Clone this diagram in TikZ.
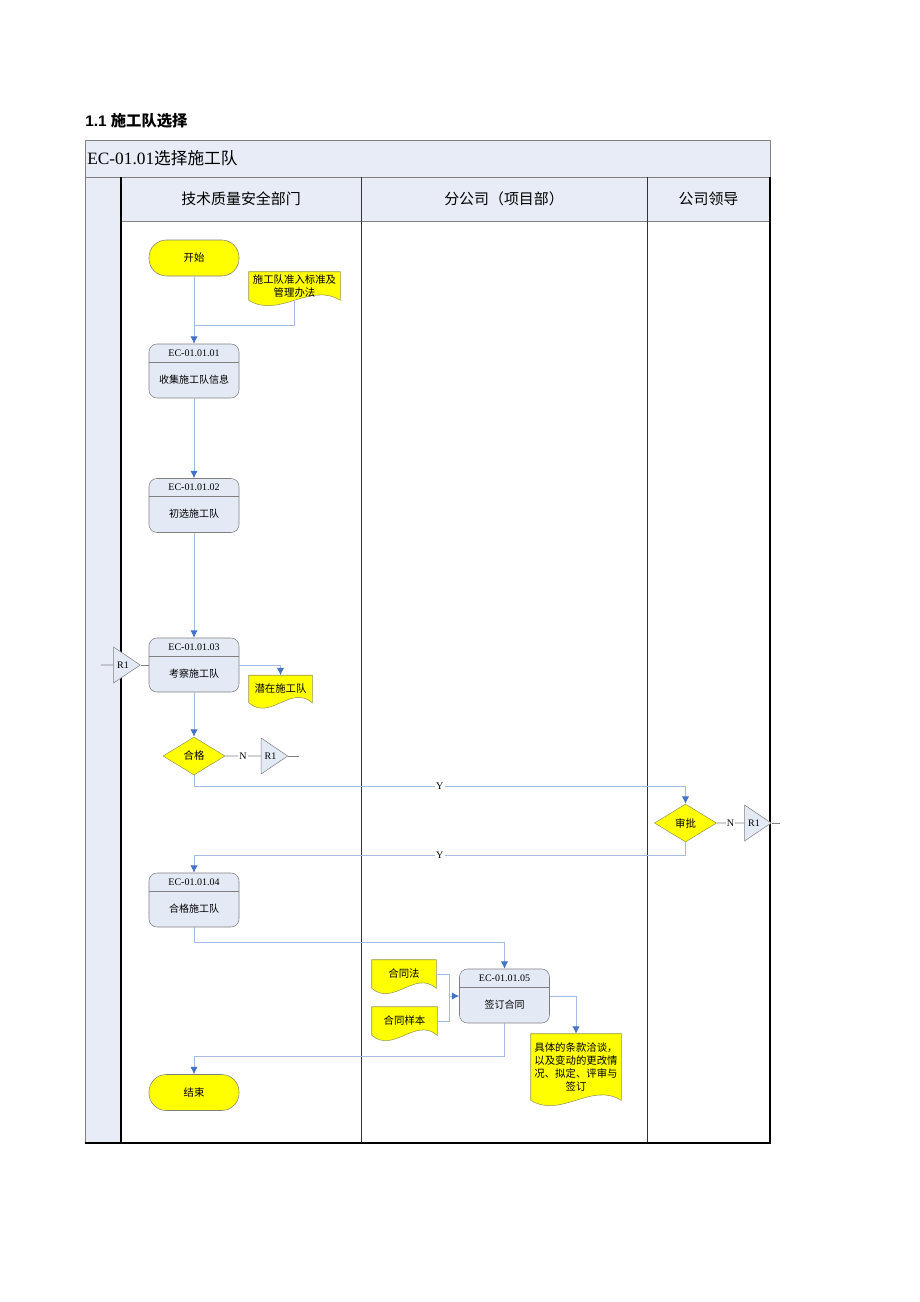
\documentclass[tikz,border=0pt]{standalone}
\usepackage{fontspec}
\setmainfont{Liberation Serif}
\newfontfamily\cjk{Noto Sans CJK SC}
\newfontfamily\headsans{Liberation Sans}
\usepackage{tikz}
\usetikzlibrary{positioning,shapes.geometric,arrows.meta,calc,backgrounds}

\definecolor{lanefill}{RGB}{231,236,246}
\definecolor{boxfill}{RGB}{228,234,245}
\definecolor{boxline}{RGB}{128,128,128}
\definecolor{linkblue}{RGB}{165,188,226}
\definecolor{arrowblue}{RGB}{68,114,196}
\definecolor{docyellow}{RGB}{255,255,0}
\definecolor{docedge}{RGB}{150,150,90}

\tikzset{
  lanehead/.style={font=\cjk\fontsize{11.2}{13}\selectfont, inner sep=0pt},
  termbox/.style={rectangle, draw=boxline, fill=docyellow, rounded corners=13pt,
    minimum width=67.5pt, minimum height=27pt, inner sep=0pt,
    font=\cjk\fontsize{7.8}{9}\selectfont},
  procbox/.style={rectangle, draw=boxline, fill=boxfill, rounded corners=6pt,
    minimum width=67.5pt, minimum height=40.5pt, inner sep=0pt,
    text height=20pt, text depth=2pt, font=\cjk\fontsize{7.5}{9}\selectfont,
    path picture={\draw[boxline]
      ([yshift=-13.5pt]path picture bounding box.north west) --
      ([yshift=-13.5pt]path picture bounding box.north east);}},
  idtext/.style={inner sep=0pt, font=\fontsize{7.5}{9}\selectfont},
  docnode/.style={rectangle, inner sep=1pt, align=center,
    font=\cjk\fontsize{7.8}{9.6}\selectfont},
  decision/.style={diamond, draw=docedge, fill=docyellow, minimum width=46.5pt,
    minimum height=28.5pt, inner sep=0pt, font=\cjk\fontsize{7.8}{9}\selectfont},
  refmark/.style={isosceles triangle, isosceles triangle stretches, draw=boxline,
    fill=boxfill, minimum width=27pt, minimum height=20pt, inner sep=0pt,
    font=\fontsize{7.5}{9}\selectfont},
  flowline/.style={draw=linkblue, line width=0.7pt,
    -{Latex[length=5.5pt,width=5.5pt,color=arrowblue]}},
  joinline/.style={draw=linkblue, line width=0.7pt},
  plainline/.style={draw=boxline, line width=0.5pt},
  ynlabel/.style={fill=white, inner sep=1pt, font=\fontsize{7.5}{9}\selectfont}
}

\newcommand{\docshape}[1]{%
  \filldraw[draw=docedge, fill=docyellow, line width=0.4pt]
    (#1.north west) -- (#1.north east) -- (#1.south east)
    .. controls ([yshift=14pt]$(#1.south west)!0.67!(#1.south east)$)
    and ([yshift=-14pt]$(#1.south west)!0.33!(#1.south east)$) .. (#1.south west)
    -- cycle;}

\begin{document}
\begin{tikzpicture}[x=0.75pt,y=-0.75pt]
    \useasboundingbox (0,0) rectangle (920,1302);

    \node[anchor=west, inner sep=0pt] (heading) at (85,121)
      {{\headsans\bfseries\fontsize{11.5}{13}\selectfont 1.1 }{\cjk\bfseries\fontsize{11.5}{13}\selectfont 施工队选择}};

    \fill[lanefill] (85,140) rectangle (770,177);
    \fill[lanefill] (85,177) rectangle (121,1143);
    \fill[lanefill] (121,177) rectangle (770,221);
    \draw[boxline, line width=0.6pt] (85,140) rectangle (770,1143);
    \draw[boxline, line width=0.6pt] (85,177) -- (770,177);
    \draw[boxline, line width=0.6pt] (121,221) -- (770,221);
    \draw[black!80, line width=0.6pt] (361,177) -- (361,1143);
    \draw[black!80, line width=0.6pt] (647,177) -- (647,1143);
    \draw[black, line width=0.8pt] (121,177) -- (121,1143);
    \draw[black, line width=0.8pt] (85,1143) -- (770,1143) -- (770,177);

    \node[anchor=west, inner sep=0pt] (title) at (87,158)
      {\fontsize{13}{15}\selectfont EC-01.01{\cjk\fontsize{12.5}{15}\selectfont 选择施工队}};
    \node[lanehead] (lane1) at (241,199) {技术质量安全部门};
    \node[lanehead] (lane2) at (504,199) {分公司（项目部）};
    \node[lanehead] (lane3) at (708.5,199) {公司领导};

    \node[termbox] (start) at (194,258) {开始};
    \node[docnode, minimum width=68.25pt, minimum height=21pt] (doc1) at (294.5,286)
      {施工队准入标准及\\管理办法};

    \node[procbox] (p1) at (194,371) {收集施工队信息};
    \node[idtext, below=4.25pt of p1.north] (p1id) {EC-01.01.01};
    \node[procbox] (p2) at (194,505.5) {初选施工队};
    \node[idtext, below=4.25pt of p2.north] (p2id) {EC-01.01.02};
    \node[procbox] (p3) at (194,665) {考察施工队};
    \node[idtext, below=4.25pt of p3.north] (p3id) {EC-01.01.03};

    \node[refmark] (r1a) at (123,665) {R1};
    \node[docnode, minimum width=47.25pt, minimum height=20.25pt] (doc2) at (280.5,689)
      {潜在施工队};

    \node[decision] (d1) at (194,756) {合格};
    \node[refmark] (r1b) at (270.5,756) {R1};
    \node[decision] (d2) at (685.5,823) {审批};
    \node[refmark] (r1c) at (754,823) {R1};

    \node[procbox] (p4) at (194,900) {合格施工队};
    \node[idtext, below=4.25pt of p4.north] (p4id) {EC-01.01.04};

    \node[docnode, minimum width=48pt, minimum height=21pt] (law) at (404,974) {合同法};
    \node[docnode, minimum width=48.75pt, minimum height=21pt] (sample) at (404.5,1021) {合同样本};
    \node[procbox] (p5) at (504.5,996) {签订合同};
    \node[idtext, below=4.25pt of p5.north] (p5id) {EC-01.01.05};
    \node[docnode, minimum width=67.5pt, minimum height=49.5pt] (doc4) at (576,1067)
      {具体的条款洽谈，\\以及变动的更改情\\况、拟定、评审与\\签订};

    \node[termbox] (stop) at (194,1092.5) {结束};

    \begin{scope}[on background layer]
      \docshape{doc1}
      \docshape{doc2}
      \docshape{law}
      \docshape{sample}
      \docshape{doc4}
    \end{scope}

    \coordinate (j1) at (194,325);
    \coordinate (j2) at (449,996);
    \coordinate (r1ain) at (101,665);
    \coordinate (r1bout) at (299,756);
    \coordinate (r1cout) at (780,823);

    \draw[flowline] (start) -- (p1);
    \draw[joinline] (doc1.south) |- (j1);
    \draw[flowline] (p1) -- (p2);
    \draw[flowline] (p2) -- (p3);
    \draw[flowline] (p3) -- (d1);
    \draw[flowline] (p3.east) -| (doc2.north);
    \draw[plainline] (r1ain) -- (r1a.west);
    \draw[plainline] (r1a.apex) -- (p3.west);
    \draw[plainline] (d1.east) -- node[ynlabel] {N} (r1b.west);
    \draw[plainline] (r1b.apex) -- (r1bout);
    \draw[flowline] (d1.south) -- ++(0,11) -| node[ynlabel, pos=0.25] {Y} (d2.north);
    \draw[plainline] (d2.east) -- node[ynlabel] {N} (r1c.west);
    \draw[plainline] (r1c.apex) -- (r1cout);
    \draw[flowline] (d2.south) -- ++(0,13) -| node[ynlabel, pos=0.25] {Y} (p4.north);
    \draw[flowline] (p4.south) -- ++(0,15) -| (p5.north);
    \draw[joinline] (law.east) -| (j2);
    \draw[joinline] (sample.east) -| (j2);
    \draw[flowline] (j2) -- (p5.west);
    \draw[flowline] (p5.east) -| (doc4.north);
    \draw[flowline] (p5.south) -- ++(0,33) -| (stop.north);
\end{tikzpicture}
\end{document}
